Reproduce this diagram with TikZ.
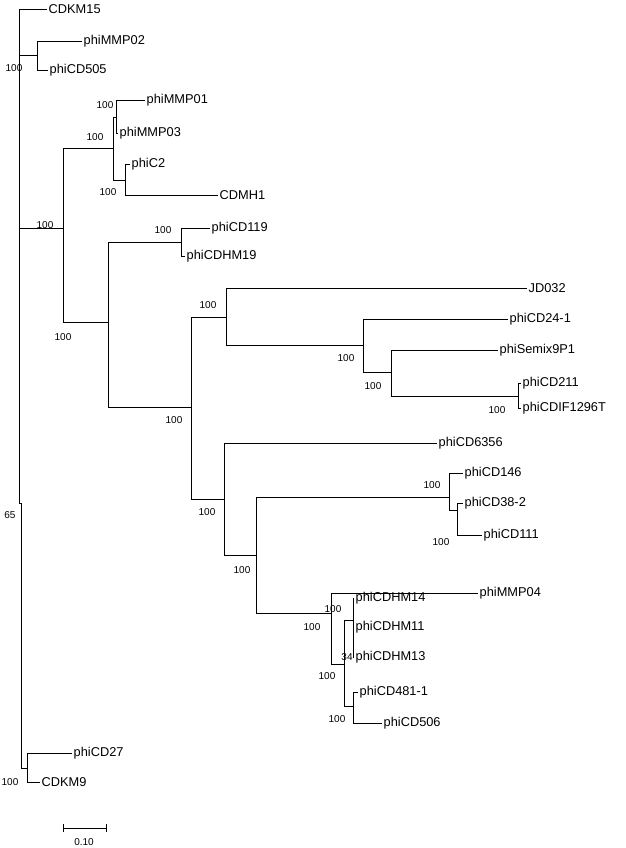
\documentclass[tikz,border=0pt]{standalone}
\usepackage{fontspec}
\setmainfont{Liberation Sans}
\tikzset{
  leaf/.style={anchor=west, inner sep=1.5pt, font=\fontsize{12.8}{13}\selectfont},
  boot/.style={inner sep=0pt, font=\fontsize{10}{10}\selectfont},
  branch/.style={line width=0.6pt}
}
% leaf: parent, name, x, y, text
\newcommand{\leafat}[5]{%
  \node[leaf] (#2) at (#3,#4) {#5};
  \draw[branch] (#1) |- (#2.west);}
\begin{document}
\begin{tikzpicture}[x=1pt,y=-1pt]
	\useasboundingbox (0,0) rectangle (625,848);

	% internal nodes
	\coordinate (r65) at (21,635);
	\coordinate (ra) at (19,503);
	\coordinate (n02) at (37,55);
	\coordinate (nbig) at (63,228);
	\coordinate (n113) at (113,148);
	\coordinate (n116) at (116,117);
	\coordinate (nc2) at (125,180);
	\coordinate (n108) at (108,322);
	\coordinate (n181) at (181,242);
	\coordinate (n191) at (191,407);
	\coordinate (n226) at (226,317);
	\coordinate (n363) at (363,345);
	\coordinate (n391) at (391,372);
	\coordinate (n518) at (518,396);
	\coordinate (n224) at (224,499);
	\coordinate (n256) at (256,555);
	\coordinate (n449) at (449,497);
	\coordinate (n457) at (457,510);
	\coordinate (n331) at (331,613);
	\coordinate (n344) at (344,664);
	\coordinate (nhm) at (353,620);
	\coordinate (n481) at (353,706);
	\coordinate (nkm9) at (27,768);

	\foreach \p/\c in {r65/ra, r65/nkm9, ra/n02, ra/nbig, nbig/n113, nbig/n108,
	  n113/n116, n113/nc2, n108/n181, n108/n191, n191/n226, n191/n224,
	  n226/n363, n363/n391, n391/n518, n224/n256, n256/n449, n256/n331,
	  n449/n457, n331/n344, n344/nhm, n344/n481}
	  \draw[branch] (\p) |- (\c);

	% leaves
	\leafat{ra}{cdkm15}{47}{9}{CDKM15}
	\leafat{n02}{mmp02}{82}{41}{phiMMP02}
	\leafat{n02}{cd505}{48}{70}{phiCD505}
	\leafat{n116}{mmp01}{145}{100}{phiMMP01}
	\leafat{n116}{mmp03}{118}{133}{phiMMP03}
	\leafat{nc2}{c2}{130}{164}{phiC2}
	\leafat{nc2}{cdmh1}{218}{195}{CDMH1}
	\leafat{n181}{cd119}{210}{228}{phiCD119}
	\leafat{n181}{cdhm19}{185}{256}{phiCDHM19}
	\leafat{n226}{jd032}{527}{288}{JD032}
	\leafat{n363}{cd241}{508}{319}{phiCD24-1}
	\leafat{n391}{semix}{498}{350}{phiSemix9P1}
	\leafat{n518}{cd211}{521}{383}{phiCD211}
	\leafat{n518}{cdif}{521}{408}{phiCDIF1296T}
	\leafat{n224}{cd6356}{437}{443}{phiCD6356}
	\leafat{n449}{cd146}{463}{473}{phiCD146}
	\leafat{n457}{cd382}{463}{503}{phiCD38-2}
	\leafat{n457}{cd111}{482}{535}{phiCD111}
	\leafat{n331}{mmp04}{478}{593}{phiMMP04}
	\leafat{nhm}{hm14}{354}{598}{phiCDHM14}
	\leafat{nhm}{hm11}{354}{627}{phiCDHM11}
	\leafat{nhm}{hm13}{354}{657}{phiCDHM13}
	\leafat{n481}{cd4811}{358}{692}{phiCD481-1}
	\leafat{n481}{cd506}{382}{723}{phiCD506}
	\leafat{nkm9}{cd27}{72}{753}{phiCD27}
	\leafat{nkm9}{cdkm9}{40}{782}{CDKM9}

	% bootstrap values
	\foreach \x/\y/\v [count=\i] in {14/68/100, 105/105/100, 95/137/100, 108/192/100,
	  45/225/100, 63/337/100, 163/230/100, 174/420/100, 208/305/100, 346/358/100,
	  373/386/100, 497/410/100, 207/512/100, 432/485/100, 441/542/100, 242/570/100,
	  333/609/100, 312/627/100, 347/657/34, 327/676/100, 337/719/100, 10/515/65, 10/782/100}
	  \node[boot] (bs\i) at (\x,\y) {\v};

	% scale bar
	\coordinate (sbl) at (63,828);
	\coordinate (sbr) at (106,828);
	\draw[branch] (sbl) -- (sbr);
	\draw[branch] ([yshift=-4pt]sbl) -- ([yshift=4pt]sbl);
	\draw[branch] ([yshift=-4pt]sbr) -- ([yshift=4pt]sbr);
	\node[boot] (sbt) at (84,842) {0.10};
\end{tikzpicture}
\end{document}
